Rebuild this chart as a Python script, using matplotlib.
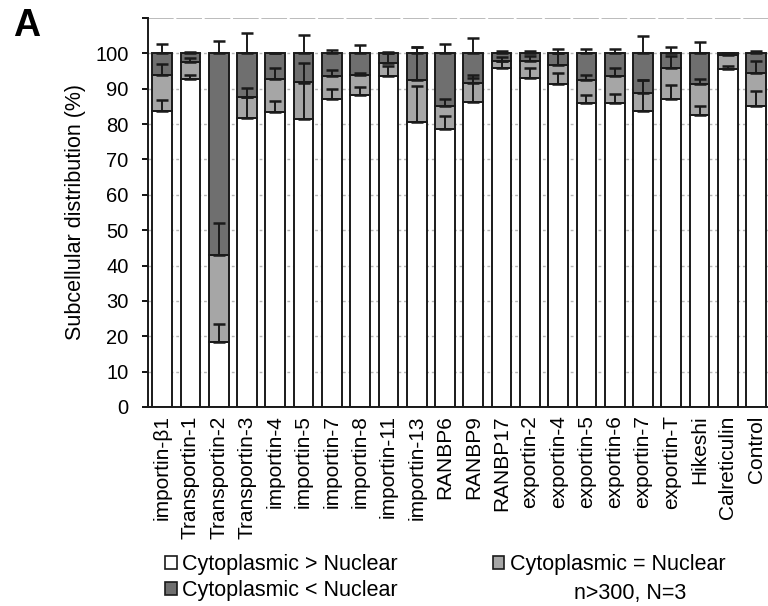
import matplotlib
matplotlib.use('Agg')
import matplotlib.pyplot as plt
from matplotlib.patches import Patch
import numpy as np

plt.rcParams['font.family'] = ['Liberation Sans', 'DejaVu Sans']

categories = ['importin-β1', 'Transportin-1', 'Transportin-2', 'Transportin-3',
              'importin-4', 'importin-5', 'importin-7', 'importin-8',
              'importin-11', 'importin-13', 'RANBP6', 'RANBP9', 'RANBP17',
              'exportin-2', 'exportin-4', 'exportin-5', 'exportin-6',
              'exportin-7', 'exportin-T', 'Hikeshi', 'Calreticulin', 'Control']

# percentages of cells in each class
cyto_gt = [83.6, 92.7, 18.3, 81.7, 83.4, 81.3, 87.2, 88.1, 93.7, 80.7, 78.7,
           86.2, 96.0, 93.1, 91.2, 86.1, 85.9, 83.7, 87.0, 82.6, 95.6, 85.1]
cyto_eq = [10.3, 4.9, 24.7, 6.0, 9.3, 10.5, 6.4, 5.9, 3.5, 11.8, 6.4,
           5.3, 1.9, 4.7, 5.6, 6.4, 7.7, 5.1, 9.0, 8.6, 3.8, 9.4]
cyto_lt = [6.1, 2.4, 57.0, 12.3, 7.3, 8.2, 6.4, 6.0, 2.8, 7.5, 14.9,
           8.5, 2.1, 2.2, 3.2, 7.5, 6.4, 11.2, 4.0, 8.8, 0.6, 5.5]

# upper error bars (SD)
err_gt = [3.2, 1.2, 5.1, 6.0, 3.2, 10.4, 2.8, 2.3, 2.6, 10.2, 3.6,
          7.6, 1.9, 2.9, 3.2, 2.0, 2.5, 8.7, 4.1, 2.4, 0.8, 4.2]
err_eq = [3.2, 1.2, 9.0, 2.5, 3.3, 5.6, 1.8, 0.5, 2.9, 9.4, 1.9,
          1.6, 1.0, 1.5, 3.2, 1.4, 2.4, 3.6, 3.2, 1.6, 0.6, 3.3]
err_lt = [2.6, 0.3, 3.6, 5.8, 0.1, 5.2, 1.0, 2.4, 0.3, 1.9, 2.7,
          4.3, 0.6, 0.7, 1.2, 1.2, 1.3, 4.9, 1.7, 3.2, 0.2, 0.7]

white = '#ffffff'
light = '#a6a6a6'
dark = '#6f6f6f'
edge = '#1a1a1a'

fig = plt.figure(figsize=(7.68, 6.06), dpi=100)
ax = fig.add_axes([148/768, 1 - 407/606, 1 - 148/768, (407 - 18)/606])

x = np.arange(len(categories))
gt = np.array(cyto_gt)
eq = np.array(cyto_eq)
lt = np.array(cyto_lt)
w = 0.7

ax.bar(x, gt, w, color=white, edgecolor=edge, linewidth=1.4, zorder=2)
ax.bar(x, eq, w, bottom=gt, color=light, edgecolor=edge, linewidth=1.4, zorder=2)
ax.bar(x, lt, w, bottom=gt + eq, color=dark, edgecolor=edge, linewidth=1.4, zorder=2)

tops = [gt, gt + eq, gt + eq + lt]
errs = [err_gt, err_eq, err_lt]
for t, e in zip(tops, errs):
    e = np.array(e)
    ax.errorbar(x, t, yerr=[np.zeros_like(e), e], fmt='none', ecolor=edge,
                elinewidth=1.4, capsize=4, capthick=1.8, zorder=3)

# gridlines
for yv in range(10, 101, 10):
    ax.axhline(yv, color='#b5b5b5', lw=1, ls=(0, (2, 2)), zorder=1)
ax.axhline(110, color='#b5b5b5', lw=1.3, ls=(0, (14.2, 1.5)), zorder=1)

ax.set_xlim(-0.5, 21.42)
ax.set_ylim(0, 110)
ax.set_yticks(range(0, 111, 10))
ax.set_yticklabels([str(v) for v in range(0, 101, 10)] + [''])
ax.set_xticks(x)
ax.set_xticklabels(categories, rotation=90, fontsize=15)
ax.tick_params(axis='x', length=0, pad=6)
ax.tick_params(axis='y', length=4, width=1.3, pad=10, labelsize=14.5)

for s in ['top', 'right']:
    ax.spines[s].set_visible(False)
for s in ['left', 'bottom']:
    ax.spines[s].set_linewidth(1.4)
    ax.spines[s].set_color(edge)

ax.set_ylabel('Subcellular distribution (%)', fontsize=15.5)
ax.yaxis.set_label_coords(-0.1, 0.5)

fig.text(13/768, 1 - 8/606, 'A', fontsize=27, fontweight='bold', va='top', ha='left')

handles = [Patch(facecolor=white, edgecolor=edge, lw=1.2),
           Patch(facecolor=dark, edgecolor=edge, lw=1.2),
           Patch(facecolor=light, edgecolor=edge, lw=1.2)]
labels = ['Cytoplasmic > Nuclear', 'Cytoplasmic < Nuclear', 'Cytoplasmic = Nuclear']
fig.legend(handles, labels, loc='upper left', bbox_to_anchor=(165/768, 1 - 554/606),
           ncol=2, frameon=False, fontsize=15.5, handlelength=0.55, handleheight=0.55,
           handletextpad=0.25, labelspacing=0.25, columnspacing=4.4,
           borderpad=0, borderaxespad=0)

fig.text(630/768, 1 - 594/606, 'n>300, N=3', fontsize=15.5, ha='center', va='center')

fig.savefig('out.png', dpi=100)
